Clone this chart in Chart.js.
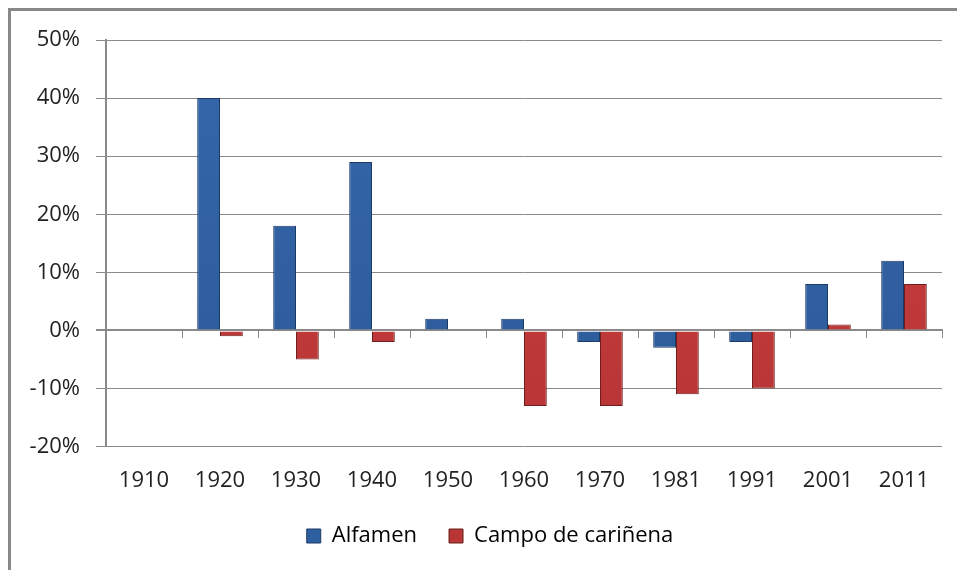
<!DOCTYPE html>
<html>
<head>
<meta charset="utf-8">
<script src="https://cdn.jsdelivr.net/npm/chart.js@4.4.1/dist/chart.umd.min.js"></script>
<style>
  html, body { margin: 0; padding: 0; background: #fff; }
  #wrap { position: relative; width: 957px; height: 570px; overflow: hidden; }
  #frame { position: absolute; left: 8px; top: 8px; right: -10px; bottom: -10px;
           border-top: 3px solid #888; border-left: 3px solid #888; }
  canvas { position: absolute; left: 0; top: 0; }
</style>
</head>
<body>
<div id="wrap">
  <div id="frame"></div>
  <canvas id="chart" width="957" height="570"></canvas>
</div>
<script>
// --- DATOS ---
const years = ['1910', '1920', '1930', '1940', '1950', '1960', '1970', '1981', '1991', '2001', '2011'];
const alfamen = [null, 40, 18, 29, 2, 2, -2, -3, -2, 8, 12];
const campoCarinena = [null, -1, -5, -2, null, -13, -13, -11, -10, 1, 8];
const yTicks = { min: -20, max: 50, step: 10 };

const fontFamily = "'Open Sans', 'Noto Sans', sans-serif";
const grey = '#8a8a8a';

// degradado vertical suave para las barras
function barFill(light, dark) {
  return (context) => {
    const area = context.chart.chartArea;
    if (!area) return light;
    const g = context.chart.ctx.createLinearGradient(0, area.top, 0, area.bottom);
    g.addColorStop(0, light);
    g.addColorStop(1, dark);
    return g;
  };
}

// recoloca la leyenda: centrada bajo el área del gráfico, y con caja más alta para no recortarla
const legendShift = {
  id: 'legendShift',
  afterLayout(chart) {
    const lg = chart.legend;
    if (!lg) return;
    const dx = (chart.chartArea.left + chart.chartArea.right) / 2 - (lg.left + lg.right) / 2 - 34;
    lg.left += dx;
    lg.right += dx;
    lg.top -= 22;
    lg.bottom = chart.height;
    lg.height = lg.bottom - lg.top;
  }
};

new Chart(document.getElementById('chart'), {
  type: 'bar',
  data: {
    labels: years,
    datasets: [
      {
        label: 'Alfamen',
        data: alfamen,
        backgroundColor: barFill('#3567ab', '#2c5a98'),
        borderColor: '#1c3a66',
        borderWidth: 1,
        categoryPercentage: 0.6,
        barPercentage: 1.0
      },
      {
        label: 'Campo de cariñena',
        data: campoCarinena,
        backgroundColor: barFill('#cc4242', '#b83434'),
        borderColor: '#6e1e1e',
        borderWidth: 1,
        categoryPercentage: 0.6,
        barPercentage: 1.0
      }
    ]
  },
  plugins: [legendShift],
  options: {
    responsive: false,
    animation: false,
    layout: { padding: { left: 0, right: 15, top: 40, bottom: 17 } },
    scales: {
      x: {
        position: { y: 0 },
        ticks: { display: false },
        grid: { drawOnChartArea: false, offset: true, tickLength: 7, color: grey, lineWidth: 1 },
        border: { display: true, color: grey, width: 2 },
        afterFit: (scale) => { scale.height = 0; }
      },
      x2: {
        type: 'category',
        labels: years,
        position: 'bottom',
        offset: true,
        grid: { display: false, drawTicks: false },
        border: { display: false },
        ticks: { color: '#222', padding: 21, font: { family: fontFamily, size: 22 } }
      },
      y: {
        min: yTicks.min,
        max: yTicks.max,
        ticks: {
          stepSize: yTicks.step,
          padding: 16,
          color: '#222',
          font: { family: fontFamily, size: 22 },
          callback: (v) => v + '%'
        },
        grid: {
          color: grey,
          lineWidth: (c) => (c.tick && c.tick.value === 0 ? 2 : 1),
          tickLength: 10
        },
        border: { display: true, color: grey, width: 2 },
        afterFit: (scale) => { scale.width = 106; }
      }
    },
    plugins: {
      legend: {
        position: 'bottom',
        maxHeight: 38,
        labels: {
          boxWidth: 14,
          boxHeight: 14,
          padding: 32,
          color: '#111',
          font: { family: fontFamily, size: 22 },
          generateLabels: (chart) => chart.data.datasets.map((ds, i) => ({
            text: ds.label,
            fillStyle: i === 0 ? '#2d5f9e' : '#b93636',
            strokeStyle: i === 0 ? '#1c3a66' : '#6e1e1e',
            lineWidth: 1,
            datasetIndex: i
          }))
        }
      },
      tooltip: { enabled: false }
    }
  }
});
</script>
</body>
</html>
